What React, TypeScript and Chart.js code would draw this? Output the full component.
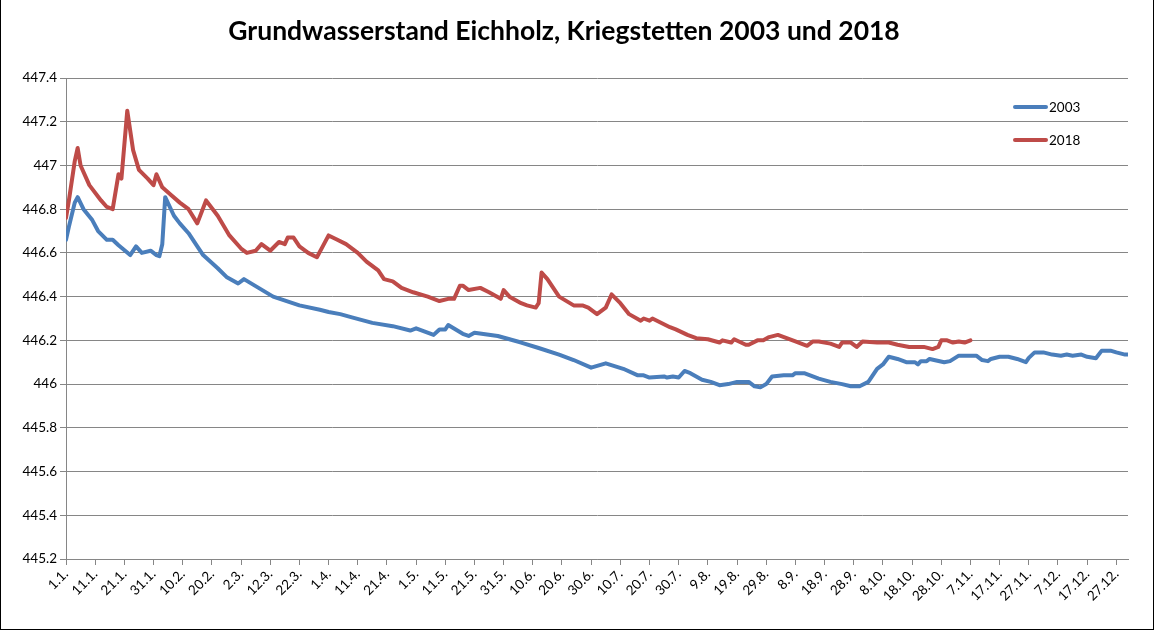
import React, { useEffect, useRef } from 'react';
import { Chart, registerables } from 'chart.js';

Chart.register(...registerables);

const chartTitle = 'Grundwasserstand Eichholz, Kriegstetten 2003 und 2018';

// day index (0 = 1.1.) and groundwater level in m a.s.l.
const days2003 = [
  0, 1, 3, 4, 6, 9, 11, 14, 16, 18, 22, 24, 26, 29, 31, 32, 33, 34, 37, 39,
  42, 45, 47, 52, 55, 59, 61, 66, 71, 80, 87, 90, 94, 98, 105, 112, 118, 120, 126, 128,
  130, 131, 136, 138, 140, 148, 156, 162, 169, 174, 180, 185, 191, 196, 198, 200, 205, 206, 208, 210,
  212, 214, 218, 221, 224, 227, 230, 234, 236, 238, 240, 242, 246, 249, 250, 253, 258, 262, 266, 269,
  272, 275, 278, 280, 282, 285, 288, 291, 292, 293, 295, 296, 301, 303, 306, 310, 312, 314, 316, 317,
  320, 323, 326, 329, 330, 332, 335, 338, 341, 343, 345, 348, 350, 353, 355, 358, 360, 363, 364,
];
const level2003 = [
  446.66, 446.72, 446.83, 446.855, 446.8, 446.75, 446.7, 446.66, 446.66, 446.635, 446.59, 446.63, 446.6, 446.61, 446.59, 446.585, 446.64, 446.855, 446.77, 446.735,
  446.69, 446.63, 446.59, 446.53, 446.49, 446.46, 446.48, 446.44, 446.4, 446.36, 446.34, 446.33, 446.32, 446.305, 446.28, 446.265, 446.245, 446.255, 446.225, 446.25,
  446.25, 446.27, 446.23, 446.22, 446.235, 446.22, 446.19, 446.165, 446.135, 446.11, 446.075, 446.095, 446.07, 446.04, 446.04, 446.03, 446.035, 446.03, 446.035, 446.03,
  446.06, 446.05, 446.02, 446.01, 445.995, 446.0, 446.01, 446.01, 445.99, 445.985, 446.0, 446.035, 446.04, 446.04, 446.05, 446.05, 446.025, 446.01, 446.0, 445.99,
  445.99, 446.01, 446.07, 446.09, 446.125, 446.115, 446.1, 446.1, 446.09, 446.105, 446.105, 446.115, 446.1, 446.105, 446.13, 446.13, 446.13, 446.11, 446.105, 446.115,
  446.125, 446.125, 446.115, 446.1, 446.12, 446.145, 446.145, 446.135, 446.13, 446.135, 446.13, 446.135, 446.125, 446.118, 446.153, 446.153, 446.145, 446.135, 446.135,
];

const days2018 = [
  0, 1, 3, 4, 5, 8, 12, 14, 16, 18, 19, 21, 23, 25, 28, 30, 31, 33, 36, 39,
  42, 45, 48, 52, 56, 60, 62, 65, 67, 70, 73, 75, 76, 78, 80, 83, 86, 88, 90, 93,
  96, 100, 103, 107, 109, 112, 115, 119, 124, 128, 131, 133, 135, 136, 138, 142, 145, 149, 150, 152,
  156, 158, 161, 162, 163, 165, 169, 174, 177, 179, 182, 185, 187, 190, 193, 197, 198, 200, 201, 207,
  209, 213, 216, 220, 224, 225, 228, 229, 233, 234, 237, 239, 241, 244, 247, 250, 254, 256, 258, 262,
  265, 266, 269, 271, 273, 278, 282, 285, 289, 292, 294, 297, 299, 300, 302, 304, 306, 308, 310,
];
const level2018 = [
  446.76, 446.84, 447.02, 447.08, 447.0, 446.91, 446.84, 446.81, 446.8, 446.96, 446.94, 447.25, 447.07, 446.98, 446.94, 446.91, 446.96, 446.9, 446.865, 446.83,
  446.8, 446.735, 446.84, 446.77, 446.68, 446.62, 446.6, 446.61, 446.64, 446.61, 446.65, 446.64, 446.67, 446.67, 446.63, 446.6, 446.58, 446.63, 446.68, 446.66,
  446.64, 446.6, 446.56, 446.52, 446.48, 446.47, 446.44, 446.42, 446.4, 446.38, 446.39, 446.39, 446.45, 446.45, 446.43, 446.44, 446.42, 446.39, 446.43, 446.4,
  446.37, 446.36, 446.35, 446.37, 446.51, 446.48, 446.4, 446.36, 446.36, 446.35, 446.32, 446.35, 446.41, 446.37, 446.32, 446.29, 446.3, 446.29, 446.3, 446.26,
  446.25, 446.225, 446.21, 446.205, 446.19, 446.2, 446.19, 446.205, 446.18, 446.18, 446.2, 446.2, 446.215, 446.225, 446.21, 446.195, 446.175, 446.195, 446.195, 446.185,
  446.17, 446.19, 446.19, 446.17, 446.195, 446.19, 446.19, 446.18, 446.17, 446.17, 446.17, 446.16, 446.17, 446.2, 446.2, 446.19, 446.195, 446.19, 446.2,
];

const tickLabels = [
  '1.1.', '11.1.', '21.1.', '31.1.', '10.2.', '20.2.', '2.3.', '12.3.', '22.3.', '1.4.',
  '11.4.', '21.4.', '1.5.', '11.5.', '21.5.', '31.5.', '10.6.', '20.6.', '30.6.', '10.7.',
  '20.7.', '30.7.', '9.8.', '19.8.', '29.8.', '8.9.', '18.9.', '28.9.', '8.10.', '18.10.',
  '28.10.', '7.11.', '17.11.', '27.11.', '7.12.', '17.12.', '27.12.',
];
const tickStepDays = 10;
const lastDay = 364;

const yMin = 445.2;
const yMax = 447.4;
const yStep = 0.2;

const seriesNames = ['2003', '2018'];
const seriesColors = ['#4A7EBB', '#BE4B48'];

const FONT = 'Lato, "Open Sans", sans-serif';

const insideLegend = {
  id: 'insideLegend',
  afterDatasetsDraw(chart: any) {
    const ctx = chart.ctx;
    chart.data.datasets.forEach((ds: any, i: number) => {
      const y = 107 + i * 33;
      ctx.save();
      ctx.strokeStyle = ds.borderColor;
      ctx.lineWidth = 4;
      ctx.lineCap = 'round';
      ctx.beginPath();
      ctx.moveTo(1015, y);
      ctx.lineTo(1046, y);
      ctx.stroke();
      ctx.fillStyle = '#000';
      ctx.font = `13.5px ${FONT}`;
      ctx.textBaseline = 'middle';
      ctx.textAlign = 'left';
      ctx.fillText(ds.label, 1049, y + 1);
      ctx.restore();
    });
  },
};

export default function App() {
  const canvasRef = useRef<HTMLCanvasElement | null>(null);

  useEffect(() => {
    document.body.style.margin = '0';
    const canvas = canvasRef.current;
    if (!canvas) return;
    const tickDays = tickLabels.map((_, i) => i * tickStepDays);
    const toPoints = (days: number[], vals: number[]) => days.map((d, i) => ({ x: d, y: vals[i] }));

    const lineStyle = {
      borderWidth: 4,
      pointRadius: 0,
      tension: 0,
      borderCapStyle: 'round',
      borderJoinStyle: 'round',
    };

    const chart = new Chart(canvas, {
      type: 'line',
      data: {
        datasets: [
          {
            label: seriesNames[0],
            data: toPoints(days2003, level2003),
            borderColor: seriesColors[0],
            backgroundColor: seriesColors[0],
            ...lineStyle,
          },
          {
            label: seriesNames[1],
            data: toPoints(days2018, level2018),
            borderColor: seriesColors[1],
            backgroundColor: seriesColors[1],
            ...lineStyle,
          },
        ],
      },
      options: {
        responsive: false,
        animation: false,
        events: [],
        layout: { padding: { top: 0, right: 29, bottom: 0, left: 0 } },
        plugins: {
          legend: { display: false },
          tooltip: { enabled: false },
          title: {
            display: true,
            text: chartTitle,
            color: '#000',
            font: { family: FONT, size: 26.5, weight: 'bold', lineHeight: 1.2 },
            padding: { top: 16, bottom: 30.2 },
          },
        },
        scales: {
          x: {
            type: 'linear',
            min: 0,
            max: lastDay,
            afterBuildTicks: (scale: any) => {
              scale.ticks = tickDays.map((v) => ({ value: v }));
            },
            afterFit: (scale: any) => {
              scale.height = 72;
            },
            ticks: {
              autoSkip: false,
              maxRotation: 45,
              minRotation: 45,
              padding: 1,
              color: '#000',
              font: { family: FONT, size: 13.5 },
              callback: (v: any) => {
                const i = tickDays.indexOf(Number(v));
                return i >= 0 ? tickLabels[i] : '';
              },
            },
            grid: { drawOnChartArea: false, drawTicks: true, tickLength: 6, color: '#868686' },
            border: { color: '#868686' },
          },
          y: {
            min: yMin,
            max: yMax,
            ticks: {
              stepSize: yStep,
              padding: 3,
              color: '#000',
              font: { family: FONT, size: 13.5 },
              callback: (v: any) => String(Number(Number(v).toFixed(1))),
            },
            afterFit: (scale: any) => {
              scale.width = 66;
            },
            grid: { color: '#868686', tickLength: 6 },
            border: { color: '#868686' },
          },
        },
      },
      plugins: [insideLegend],
    } as any);

    return () => chart.destroy();
  }, []);

  return (
    <div style={{ position: 'relative', width: 1157, height: 631, background: '#fff' }}>
      <canvas ref={canvasRef} width={1157} height={631} style={{ display: 'block' }} />
      <div
        style={{
          position: 'absolute',
          left: 0,
          top: 0,
          width: 1154,
          height: 630,
          boxSizing: 'border-box',
          borderLeft: '1px solid #000',
          borderRight: '1px solid #000',
          borderBottom: '1px solid #000',
          pointerEvents: 'none',
        }}
      />
    </div>
  );
}
